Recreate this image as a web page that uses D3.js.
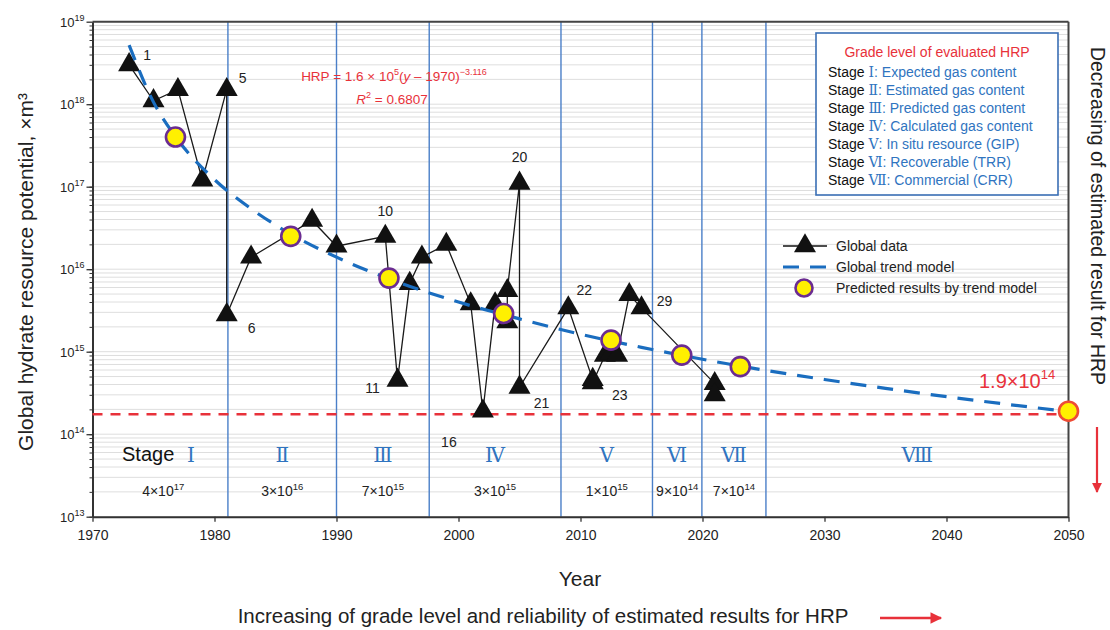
<!DOCTYPE html>
<html>
<head>
<meta charset="utf-8">
<script src="https://cdn.jsdelivr.net/npm/d3@7"></script>
<style>
  body { margin: 0; background: #fff; }
  svg { display: block; }
  text { font-family: "Liberation Sans", Arial, sans-serif; }
</style>
</head>
<body>
<svg id="chart" width="1110" height="630"></svg>
<script>
// ---- Global hydrate resource potential estimates (year, m³), in publication order ----
const dataYears  = [1973, 1975, 1977, 1979, 1981, 1981, 1983, 1988, 1990, 1994, 1995, 1996, 1997, 1999, 2001,
                    2002, 2003, 2004, 2004, 2005, 2005, 2009, 2011, 2011, 2012, 2012.5, 2013, 2014, 2015, 2021, 2021];
const dataValues = [3.0e18, 1.1e18, 1.5e18, 1.2e17, 1.5e18, 2.8e15, 1.4e16, 3.9e16, 1.9e16, 2.5e16, 4.5e14, 6.7e15, 1.4e16, 2.0e16, 3.8e15,
                    1.9e14, 3.8e15, 2.3e15, 5.5e15, 1.1e17, 3.7e14, 3.4e15, 4.6e14, 4.2e14, 9.0e14, 9.6e14, 9.0e14, 4.9e15, 3.4e15, 4.1e14, 3.0e14];
// record numbers that carry a label
const labelledIds = [1, 5, 6, 10, 11, 16, 20, 21, 22, 23, 29];

// ---- Global trend model curve ----
const trendYears  = [1973, 1975, 1977, 1980, 1983, 1986, 1990, 1995, 2000, 2005, 2010, 2015, 2020, 2025, 2030, 2035, 2040, 2045, 2050];
const trendValues = [5.2e18, 1.06e18, 3.7e17, 1.22e17, 5.4e16, 2.8e16, 1.4e16, 7.0e15, 4.0e15, 2.5e15, 1.63e15, 1.13e15, 8.1e14, 6.0e14, 4.6e14, 3.6e14, 2.85e14, 2.3e14, 1.88e14];

// ---- Predicted results by trend model ----
const predYears  = [1976.8, 1986.25, 1994.3, 2003.7, 2012.5, 2018.3, 2023.1, 2050];
const predValues = [4.0e17, 2.5e16, 7.8e15, 2.9e15, 1.38e15, 9.1e14, 6.6e14, 1.9e14];

// ---- Grade stages ----
const stageBounds   = [1981.1, 1990, 1997.6, 2008.4, 2015.9, 2019.95, 2025.2];
const stageNumerals = ["Ⅰ", "Ⅱ", "Ⅲ", "Ⅳ", "Ⅴ", "Ⅵ", "Ⅶ", "Ⅷ"];
const stageMantissa = [4, 3, 7, 3, 1, 9, 7];
const stageExponent = [17, 16, 15, 15, 15, 14, 14];
const stageNames    = ["Expected gas content", "Estimated gas content", "Predicted gas content",
                       "Calculated gas content", "In situ resource (GIP)", "Recoverable (TRR)", "Commercial (CRR)"];
const thresholdValue = 1.75e14;

// ---- Axis ticks ----
const xTicks   = [1970, 1980, 1990, 2000, 2010, 2020, 2030, 2040, 2050];
const yTickExp = [13, 14, 15, 16, 17, 18, 19];

// ---------------------------------------------------------------------------
const svg = d3.select("#chart");
const X0 = 92.5, X1 = 1068.5, Y0 = 21.7, Y1 = 516.7;
const x = d3.scaleLinear().domain([1970, 2050]).range([X0, X1]);
const y = d3.scaleLog().domain([1e13, 1e19]).range([Y1, Y0]);

const BLUE_LINE = "#4a7fc8", BLUE_TEXT = "#2f74c0", RED = "#e8313a", PURPLE = "#6b2c91", YELLOW = "#fff000";

// minor grid at every log sub-decade
const minorVals = [];
yTickExp.slice(0, -1).forEach(e => { for (let m = 1; m <= 9; m++) minorVals.push(m * Math.pow(10, e)); });
svg.append("g").selectAll("line").data(minorVals.concat([1e19])).join("line")
  .attr("x1", X0).attr("x2", X1)
  .attr("y1", d => y(d)).attr("y2", d => y(d))
  .attr("stroke", "#dedede").attr("stroke-width", 1);

// stage boundaries
svg.append("g").selectAll("line").data(stageBounds).join("line")
  .attr("x1", d => x(d)).attr("x2", d => x(d))
  .attr("y1", Y0).attr("y2", Y1)
  .attr("stroke", BLUE_LINE).attr("stroke-width", 1.4);

// frame (top and right)
svg.append("line").attr("x1", X0).attr("x2", X1).attr("y1", Y0).attr("y2", Y0).attr("stroke", "#444").attr("stroke-width", 2);
svg.append("line").attr("x1", X1).attr("x2", X1).attr("y1", Y0).attr("y2", Y1).attr("stroke", "#444").attr("stroke-width", 2);

// x axis
const xAxis = svg.append("g").attr("transform", `translate(0,${Y1})`)
  .call(d3.axisBottom(x).tickValues(xTicks).tickSize(5).tickSizeOuter(0).tickPadding(8).tickFormat(d3.format("d")));
xAxis.select(".domain").attr("stroke", "#333").attr("stroke-width", 2);
xAxis.selectAll(".tick line").attr("stroke", "#333").attr("stroke-width", 1.3);
xAxis.selectAll("text").attr("font-size", 14).attr("fill", "#222")
  .style("font-family", "'Liberation Sans', Arial, sans-serif");

// y axis: minor ticks, then major ticks with power labels
const yMinor = svg.append("g").attr("transform", `translate(${X0},0)`)
  .call(d3.axisLeft(y).tickValues(minorVals).tickSize(3).tickFormat(""));
yMinor.select(".domain").remove();
yMinor.selectAll(".tick line").attr("stroke", "#333");
const yMajor = svg.append("g").attr("transform", `translate(${X0},0)`)
  .call(d3.axisLeft(y).tickValues(yTickExp.map(e => Math.pow(10, e))).tickSize(6).tickSizeOuter(0).tickFormat(""));
yMajor.select(".domain").attr("stroke", "#333").attr("stroke-width", 2);
yMajor.selectAll(".tick line").attr("stroke", "#333").attr("stroke-width", 1.3);
const yLab = svg.append("g").selectAll("text").data(yTickExp).join("text")
  .attr("x", X0 - 8).attr("y", d => y(Math.pow(10, d)) + 5)
  .attr("text-anchor", "end").attr("fill", "#222").attr("font-size", 13);
yLab.append("tspan").text("10");
yLab.append("tspan").attr("font-size", 9).attr("dy", -6).text(d => d);

// threshold line
svg.append("line").attr("x1", X0).attr("x2", X1)
  .attr("y1", y(thresholdValue)).attr("y2", y(thresholdValue))
  .attr("stroke", RED).attr("stroke-width", 2.5).attr("stroke-dasharray", "10,8");

// global data line and markers
const pts = dataYears.map((yr, i) => ({ id: i + 1, year: yr, value: dataValues[i] }));
svg.append("path").datum(pts)
  .attr("d", d3.line().x(d => x(d.year)).y(d => y(d.value)))
  .attr("fill", "none").attr("stroke", "#1a1a1a").attr("stroke-width", 1.3);
const tri = d3.symbol().type(d3.symbolTriangle).size(210);
svg.append("g").selectAll("path").data(pts).join("path")
  .attr("d", tri).attr("transform", d => `translate(${x(d.year)},${y(d.value)})`)
  .attr("fill", "#111");

// trend model
const trendPts = trendYears.map((yr, i) => [x(yr), y(trendValues[i])]);
svg.append("path").datum(trendPts)
  .attr("d", d3.line().curve(d3.curveMonotoneX))
  .attr("fill", "none").attr("stroke", "#1a6dbf").attr("stroke-width", 3.2)
  .attr("stroke-dasharray", "16,11");

// predicted results
svg.append("g").selectAll("circle").data(predYears).join("circle")
  .attr("cx", d => x(d)).attr("cy", (d, i) => y(predValues[i])).attr("r", 9.5)
  .attr("fill", YELLOW)
  .attr("stroke", (d, i) => i === predYears.length - 1 ? "#ee4b35" : PURPLE)
  .attr("stroke-width", 2.6);

// record numbers
const labelOffset = { 1: [18, -10], 5: [16, -12], 6: [25, 13], 10: [0, -25], 11: [-25, 8], 16: [-34, 31],
                      20: [0, -26], 21: [22, 16], 22: [16, -18], 23: [27, 15], 29: [23, -7] };
svg.append("g").selectAll("text").data(pts.filter(p => labelledIds.includes(p.id))).join("text")
  .attr("x", d => x(d.year) + labelOffset[d.id][0])
  .attr("y", d => y(d.value) + labelOffset[d.id][1] + 5)
  .attr("text-anchor", "middle").attr("font-size", 14).attr("fill", "#222")
  .text(d => d.id);

// trend equation
const eq = svg.append("text").attr("x", 394).attr("y", 81).attr("text-anchor", "middle")
  .attr("font-size", 13.5).attr("fill", RED);
eq.append("tspan").text("HRP = 1.6 × 10");
eq.append("tspan").attr("font-size", 9).attr("dy", -6).text("5");
eq.append("tspan").attr("dy", 6).text("(");
eq.append("tspan").attr("font-style", "italic").text("y");
eq.append("tspan").text(" – 1970)");
eq.append("tspan").attr("font-size", 9).attr("dy", -6).text("−3.116");
const r2 = svg.append("text").attr("x", 392).attr("y", 104).attr("text-anchor", "middle")
  .attr("font-size", 13.5).attr("fill", RED);
r2.append("tspan").attr("font-style", "italic").text("R");
r2.append("tspan").attr("font-size", 9).attr("dy", -6).text("2");
r2.append("tspan").attr("dy", 6).text(" = 0.6807");

// stage names and stage values inside the plot
const stageEdges = [1970].concat(stageBounds, [2050]);
const stageCenters = stageNumerals.map((s, i) => (x(stageEdges[i]) + x(stageEdges[i + 1])) / 2);
svg.append("text").attr("x", 122).attr("y", 461).attr("font-size", 20).attr("fill", "#111").text("Stage");
svg.append("g").selectAll("text").data(stageNumerals).join("text")
  .attr("x", (d, i) => i === 0 ? 191 : stageCenters[i]).attr("y", 462)
  .attr("text-anchor", "middle").attr("font-size", 20).attr("fill", BLUE_TEXT)
  .style("font-family", "'DejaVu Serif', 'Liberation Serif', serif")
  .text(d => d);
const sv = svg.append("g").selectAll("text").data(stageMantissa).join("text")
  .attr("x", (d, i) => stageCenters[i] + (i === 0 ? 3 : 0)).attr("y", 496)
  .attr("text-anchor", "middle").attr("font-size", 14).attr("fill", "#222");
sv.append("tspan").text(d => d + "×10");
sv.append("tspan").attr("font-size", 9.5).attr("dy", -6).text((d, i) => stageExponent[i]);

// 2050 value
const fin = svg.append("text").attr("x", 979).attr("y", 388).attr("font-size", 20).attr("fill", RED);
fin.append("tspan").text("1.9×10");
fin.append("tspan").attr("font-size", 13).attr("dy", -9).text("14");

// grade legend box
svg.append("rect").attr("x", 816).attr("y", 33).attr("width", 242).attr("height", 162)
  .attr("fill", "#fff").attr("stroke", "#3a6fb5").attr("stroke-width", 1.6);
svg.append("text").attr("x", 937).attr("y", 57).attr("text-anchor", "middle")
  .attr("font-size", 14).attr("fill", RED).text("Grade level of evaluated HRP");
const rows = svg.append("g").selectAll("text").data(stageNames).join("text")
  .attr("x", 828).attr("y", (d, i) => 77 + i * 18).attr("font-size", 14);
rows.append("tspan").attr("fill", "#111").text("Stage ");
rows.append("tspan").attr("fill", BLUE_TEXT)
  .style("font-family", "'DejaVu Serif', 'Liberation Serif', serif").attr("font-size", 14)
  .text((d, i) => stageNumerals[i]);
rows.append("tspan").attr("fill", BLUE_TEXT).text(d => ": " + d);

// series legend
const lg = svg.append("g");
lg.append("line").attr("x1", 783).attr("x2", 827).attr("y1", 246).attr("y2", 246).attr("stroke", "#111").attr("stroke-width", 1.3);
lg.append("path").attr("d", tri).attr("transform", "translate(805,246)").attr("fill", "#111");
lg.append("line").attr("x1", 783).attr("x2", 827).attr("y1", 267).attr("y2", 267)
  .attr("stroke", "#1a6dbf").attr("stroke-width", 3.2).attr("stroke-dasharray", "16,11");
lg.append("circle").attr("cx", 804).attr("cy", 288).attr("r", 8.5).attr("fill", YELLOW).attr("stroke", PURPLE).attr("stroke-width", 2.6);
[["Global data", 251], ["Global trend model", 272], ["Predicted results by trend model", 293]].forEach(([t, yy]) =>
  lg.append("text").attr("x", 836).attr("y", yy).attr("font-size", 14).attr("fill", "#222").text(t));

// axis titles
svg.append("text").attr("transform", "translate(33,272) rotate(-90)").attr("text-anchor", "middle")
  .attr("font-size", 21).attr("fill", "#222").text("Global hydrate resource potential, ×m³");
svg.append("text").attr("transform", "translate(1091,216) rotate(90)").attr("text-anchor", "middle")
  .attr("font-size", 19.5).attr("fill", "#222").text("Decreasing of estimated result for HRP");
svg.append("text").attr("x", 580).attr("y", 586).attr("text-anchor", "middle")
  .attr("font-size", 21).attr("fill", "#222").text("Year");
svg.append("text").attr("x", 543).attr("y", 623).attr("text-anchor", "middle")
  .attr("font-size", 20.5).attr("fill", "#222")
  .text("Increasing of grade level and reliability of estimated results for HRP");

// direction arrows
const defs = svg.append("defs");
defs.append("marker").attr("id", "arrowRed").attr("viewBox", "0 0 10 10").attr("refX", 9).attr("refY", 5)
  .attr("markerWidth", 5).attr("markerHeight", 4.5).attr("markerUnits", "strokeWidth").attr("orient", "auto")
  .append("path").attr("d", "M0,0 L10,5 L0,10 Z").attr("fill", RED);
svg.append("line").attr("x1", 1097).attr("x2", 1097).attr("y1", 427).attr("y2", 492)
  .attr("stroke", RED).attr("stroke-width", 2.2).attr("marker-end", "url(#arrowRed)");
svg.append("line").attr("x1", 880).attr("x2", 941).attr("y1", 618).attr("y2", 618)
  .attr("stroke", RED).attr("stroke-width", 2.6).attr("marker-end", "url(#arrowRed)");
</script>
</body>
</html>
